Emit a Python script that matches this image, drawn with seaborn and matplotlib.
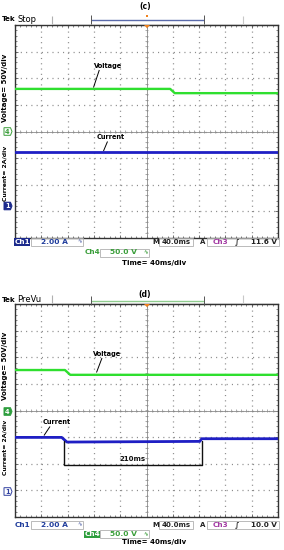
import numpy as np
import pandas as pd
import matplotlib
matplotlib.use("Agg")
import matplotlib.pyplot as plt
import seaborn as sns
from matplotlib.patches import Rectangle, Polygon
from matplotlib.ticker import MultipleLocator

# ---------------- data ----------------
# panel (c)
c_volt_t = [-200, 36, 43, 200]          # ms
c_volt_v = [80, 80, 72, 72]             # V
c_curr_t = [-200, 200]                  # ms
c_curr_a = [4.05, 4.05]                 # A
# panel (d)
d_volt_t = [-200, -124, -116, 200]
d_volt_v = [76, 76, 67, 67]
d_curr_t = [-200, -129, -121, 81, 84, 200]
d_curr_a = [4.1, 4.1, 3.75, 3.8, 4.0, 4.0]
d_step_start = -126                     # ms
d_step_end = 84                         # ms
d_step_label = "210ms"

volt_scale = 50     # V/div
curr_scale = 2      # A/div
time_scale = 40     # ms/div
panel_labels = ["(c)", "(d)"]
status_labels = ["Stop", "PreVu"]
trig_levels = ["11.6 V", "10.0 V"]

# ---------------- style ----------------
sns.set_theme(style="white")
plt.rcParams['font.family'] = ['DejaVu Sans']
plt.rcParams['lines.scale_dashes'] = False

GREEN = '#2fdf2f'
BLUE = '#1f1fc4'
NAVY = '#1c2a8c'
BLUE_TXT = '#1f3c9c'
GREEN_TXT = '#3a9e3a'
PURPLE = '#a33aa3'
ORANGE = '#f0821e'
GRID = '#8c8c8c'

W, H = 284, 550
fig = plt.figure(figsize=(W / 100, H / 100), dpi=100)


def px_axes(top, bottom, left=15, right=278):
    return fig.add_axes([left / W, (H - bottom) / H, (right - left) / W, (bottom - top) / H])


def screen(ax):
    ax.set_xlim(-5 * time_scale, 5 * time_scale)
    ax.set_ylim(-4, 4)
    ax.set_facecolor('white')
    ax.xaxis.set_major_locator(MultipleLocator(time_scale))
    ax.xaxis.set_minor_locator(MultipleLocator(time_scale / 5))
    ax.yaxis.set_major_locator(MultipleLocator(1))
    ax.yaxis.set_minor_locator(MultipleLocator(0.2))
    ax.tick_params(which='both', direction='in', top=True, right=True, bottom=True, left=True,
                   labelbottom=False, labelleft=False, color='#555555')
    ax.tick_params(which='major', length=2.4, width=0.6)
    ax.tick_params(which='minor', length=1.6, width=0.5)
    ax.grid(True, which='major', color=GRID, linestyle=(0, (0.8, 3.0)), linewidth=0.9)
    for s in ax.spines.values():
        s.set_color('#333333')
        s.set_linewidth(1.0)
    ax.axhline(0, color='#8a8a8a', lw=0.6, zorder=1)
    ax.axvline(0, color='#8a8a8a', lw=0.6, zorder=1)
    xs = np.arange(-5 * time_scale, 5 * time_scale + 1, time_scale / 5)
    ax.vlines(xs, -0.07, 0.07, color='#8a8a8a', lw=0.5, zorder=1)
    ys = np.arange(-4, 4.001, 0.2)
    ax.hlines(ys, -2.0, 2.0, color='#8a8a8a', lw=0.5, zorder=1)


def trace(ax, t, vals, scale, pos, color, lw):
    df = pd.DataFrame({'t': t, 'div': np.asarray(vals, float) / scale + pos})
    sns.lineplot(data=df, x='t', y='div', ax=ax, color=color, lw=lw,
                 estimator=None, sort=False, legend=False, zorder=3)
    ax.set_xlabel('')
    ax.set_ylabel('')


# screens
ax_c = px_axes(25, 238)
screen(ax_c)
trace(ax_c, c_volt_t, c_volt_v, volt_scale, 0.0, GREEN, 1.7)
trace(ax_c, c_curr_t, c_curr_a, curr_scale, -2.8, BLUE, 2.0)

ax_d = px_axes(304, 517)
screen(ax_d)
trace(ax_d, d_volt_t, d_volt_v, volt_scale, 0.0, GREEN, 1.7)
trace(ax_d, d_curr_t, d_curr_a, curr_scale, -3.06, BLUE, 2.0)
# 210 ms bracket
yb = -2.05
ax_d.plot([d_step_start, d_step_start, d_step_end, d_step_end],
          [-1.15, yb, yb, -1.15], color='#111111', lw=1.0, zorder=4)
ax_d.text((d_step_start + d_step_end) / 2, yb + 0.22, d_step_label, ha='center', va='center',
          fontsize=5, fontweight='bold', color='#111111')

# ---------------- overlay (pixel coords) ----------------
ov = fig.add_axes([0, 0, 1, 1], zorder=10)
ov.set_xlim(0, W)
ov.set_ylim(H, 0)
ov.axis('off')
ov.patch.set_alpha(0)


def T(x, y, s, size=5.2, color='black', weight='bold', ha='left', va='center', **kw):
    ov.text(x, y, s, fontsize=size, color=color, fontweight=weight, ha=ha, va=va, **kw)


def L(xs, ys, color='black', lw=0.8):
    ov.plot(xs, ys, color=color, lw=lw, solid_capstyle='butt')


def R(x0, y0, x1, y1, ec='#b0b0b0', fc='none', lw=0.6):
    ov.add_patch(Rectangle((x0, y0), x1 - x0, y1 - y0, ec=ec, fc=fc, lw=lw))


def top_bar(y_text, y_br, y_top, br_color, idx, label_y, dash):
    T(2.0, y_text, "Tek", size=5.0)
    T(17.5, y_text, status_labels[idx], size=6.0, weight='normal')
    L([52, 278], [y_top - 1, y_top - 1], color='#c0c0c0', lw=0.6)
    L([52, 52], [y_top - 9, y_top - 1], color='#b0b0b0', lw=0.8)
    L([243, 243], [y_top - 9, y_top - 1], color='#c8c8c8', lw=0.8)
    L([91, 204], [y_br, y_br], color=br_color, lw=1.0)
    L([91, 91], [y_br - 4.5, y_br + 4.5], color='#555555', lw=0.7)
    L([204, 204], [y_br - 4.5, y_br + 4.5], color='#555555', lw=0.7)
    T(145, label_y, panel_labels[idx], size=5.5, ha='center')
    if dash:
        ov.add_patch(Rectangle((145.8, 15), 2.6, 1.6, fc=ORANGE, ec='none'))
    ov.add_patch(Polygon([[144, y_top], [150, y_top], [147, y_top + 3.2]], closed=True,
                         fc=ORANGE, ec='none'))


def marker(x, y, s, fc, ec, tc):
    ov.add_patch(Polygon([[x - 4, y - 3.8], [x + 2.5, y - 3.8], [x + 4, y], [x + 2.5, y + 3.8],
                          [x - 4, y + 3.8]], closed=True, fc=fc, ec=ec, lw=0.7))
    T(x - 0.7, y + 0.2, s, size=4.8, color=tc, ha='center')


def side_labels(yv, yc, y4, y1, ch4_filled, ch1_filled):
    T(5.5, yv, "Voltage= 50V/div", size=5.0, ha='center', rotation=90)
    T(5.5, yc, "Current= 2A/div", size=4.4, ha='center', rotation=90)
    if ch4_filled:
        marker(8, y4, "4", '#2e9e3e', '#2e9e3e', 'white')
    else:
        marker(8, y4, "4", 'white', GREEN_TXT, GREEN_TXT)
    if ch1_filled:
        marker(8, y1, "1", NAVY, NAVY, 'white')
    else:
        marker(8, y1, "1", 'white', '#3040a0', '#3040a0')


def bottom_bar(y1, y2, y3, idx, ch1_filled, ch4_filled):
    # row 1
    if ch1_filled:
        ov.add_patch(Rectangle((14, y1 - 3.8), 16, 7.6, fc=NAVY, ec='none'))
        T(22, y1, "Ch1", color='white', ha='center')
    else:
        T(22, y1, "Ch1", color=BLUE_TXT, ha='center')
    R(31, y1 - 4, 83, y1 + 4)
    T(54.5, y1, "2.00 A", color=BLUE_TXT, ha='center', size=5.4)
    T(79.5, y1, "\u223f", color='#6070b0', ha='center', size=4.0)
    T(156, y1, "M", color='#222222', ha='center', size=5.0)
    R(159, y1 - 4, 193, y1 + 4)
    T(176, y1, "40.0ms", color='#222222', ha='center', size=5.0)
    T(202.5, y1, "A", color='#222222', ha='center', size=5.0)
    R(207, y1 - 4, 278.5, y1 + 4)
    T(220, y1, "Ch3", color=PURPLE, ha='center', size=5.2)
    T(237.5, y1, "\u222b", color='#222222', ha='center', size=5.2)
    T(277, y1, trig_levels[idx], color='#222222', ha='right', size=5.2)
    # row 2
    if ch4_filled:
        ov.add_patch(Rectangle((84, y2 - 3.8), 16, 7.6, fc='#2e9e3e', ec='none'))
        T(92, y2, "Ch4", color='white', ha='center')
    else:
        T(92, y2, "Ch4", color=GREEN_TXT, ha='center')
    R(100, y2 - 4, 149, y2 + 4)
    T(123.5, y2, "50.0 V", color=GREEN_TXT, ha='center', size=5.4)
    T(146, y2, "\u223f", color=GREEN_TXT, ha='center', size=4.0)
    # row 3
    T(154, y3, "Time= 40ms/div", color='black', ha='center', size=5.0)


# panel c chrome
top_bar(19, 19.5, 25, '#5b6bab', 0, 7, True)
side_labels(88, 173, 131.5, 206, False, True)
bottom_bar(242, 252.5, 262.5, 0, True, False)
T(108.5, 66, "Voltage", size=4.8, ha='center')
L([99.3, 93.5], [70, 87.5], lw=0.7)
T(110.5, 137, "Current", size=4.7, ha='center')
L([107.5, 103.5], [141.5, 151], lw=0.7)

# panel d chrome
top_bar(300, 300.7, 304, '#8fcc8f', 1, 295, False)
side_labels(366, 447, 411.5, 491.5, True, False)
bottom_bar(525, 534.3, 541.7, 1, False, True)
T(107.5, 354, "Voltage", size=4.8, ha='center')
L([102, 96.5], [358, 372.5], lw=0.7)
T(56.5, 422, "Current", size=4.7, ha='center')
L([50, 44], [426.5, 435.5], lw=0.7)

fig.savefig("out.png", dpi=100)
